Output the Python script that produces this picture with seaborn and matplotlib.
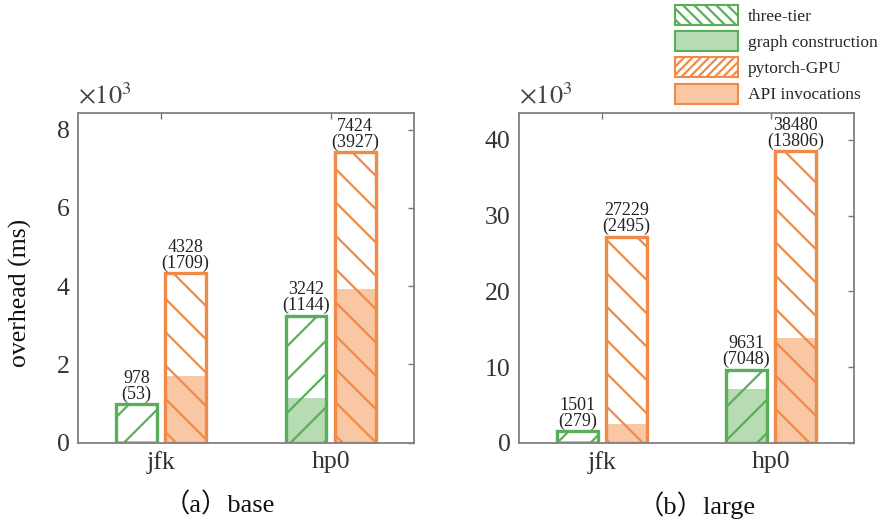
import matplotlib
matplotlib.use("Agg")
import matplotlib.pyplot as plt
import seaborn as sns
import pandas as pd
from matplotlib.patches import Patch

# ---- data (ms) ----
datasets = ["jfk", "hp0"]
methods = ["three-tier", "pytorch-GPU"]
base_total = {"three-tier": [978, 3242], "pytorch-GPU": [4328, 7424]}
base_part = {"three-tier": [53, 1144], "pytorch-GPU": [1709, 3927]}
large_total = {"three-tier": [1501, 9631], "pytorch-GPU": [27229, 38480]}
large_part = {"three-tier": [279, 7048], "pytorch-GPU": [2495, 13806]}
base_yticks = [0, 2, 4, 6, 8]
large_yticks = [0, 10, 20, 30, 40]
subtitles = ["（a）base", "（b）large"]
legend_labels = ["three-tier", "graph construction", "pytorch-GPU", "API invocations"]

GREEN = "#5aae5a"
GREEN_FILL = "#b7dbb3"
ORANGE = "#f08a46"
ORANGE_FILL = "#f9c7a4"
edge_cols = {"three-tier": GREEN, "pytorch-GPU": ORANGE}
fill_cols = {"three-tier": GREEN_FILL, "pytorch-GPU": ORANGE_FILL}
hatches = {"three-tier": "/", "pytorch-GPU": "\\"}

sns.set_style("white")
plt.rcParams["font.family"] = ["Liberation Serif", "Noto Sans CJK SC", "DejaVu Sans"]
plt.rcParams["mathtext.fontset"] = "stix"
plt.rcParams["hatch.linewidth"] = 1.6

fig = plt.figure(figsize=(8.84, 5.29), dpi=100)
ax1 = fig.add_axes([0.088, 0.163, 0.380, 0.624])
ax2 = fig.add_axes([0.587, 0.163, 0.379, 0.624])


def make_df(total, part):
    rows = []
    for m in methods:
        for d, t, p in zip(datasets, total[m], part[m]):
            rows.append({"dataset": d, "method": m, "total": t / 1000, "part": p / 1000,
                         "label": f"{t}\n({p})"})
    return pd.DataFrame(rows)


def draw(ax, total, part, yticks, ylim, sub, subx):
    df = make_df(total, part)
    sns.barplot(data=df, x="dataset", y="part", hue="method", order=datasets,
                hue_order=methods, palette=fill_cols, width=0.58, gap=0.17,
                ax=ax, legend=False, errorbar=None, saturation=1)
    sns.barplot(data=df, x="dataset", y="total", hue="method", order=datasets,
                hue_order=methods, palette=edge_cols, width=0.58, gap=0.17,
                ax=ax, legend=False, errorbar=None, saturation=1)
    for i, m in enumerate(methods):
        for p in ax.containers[i]:
            p.set_facecolor(fill_cols[m])
            p.set_edgecolor("none")
            p.set_linewidth(0)
        for p in ax.containers[2 + i]:
            p.set_facecolor("none")
            p.set_edgecolor(edge_cols[m])
            p.set_hatch(hatches[m])
            p.set_linewidth(2.4)
        labs = df[df.method == m]["label"].tolist()
        ax.bar_label(ax.containers[2 + i], labels=labs, padding=1, fontsize=13,
                     color="#222222", linespacing=0.9)
    ax.set_xlim(-0.49, 1.49)
    ax.set_ylim(0, ylim)
    ax.set_yticks(yticks)
    ax.set_yticklabels([str(t) for t in yticks])
    ax.set_ylabel("")
    ax.set_xlabel(sub, fontsize=19, color="#111111")
    ax.xaxis.set_label_coords(subx, -0.188)
    ax.xaxis.label.set_va("center")
    ax.tick_params(axis="both", direction="in", length=4, width=1.0, colors="#777777",
                   labelcolor="#333333", labelsize=18.5, top=True, right=True, pad=6)
    for s in ax.spines.values():
        s.set_visible(True)
        s.set_color("#808080")
        s.set_linewidth(1.3)
    ax.text(0.0, 1.01, r"$\times10^3$", transform=ax.transAxes, ha="left", va="bottom",
            fontsize=19, color="#444444")


draw(ax1, base_total, base_part, base_yticks, 8.43, subtitles[0], 0.42)
draw(ax2, large_total, large_part, large_yticks, 43.6, subtitles[1], 0.53)
ax1.set_ylabel("overhead (ms)", fontsize=18.5, color="#111111")
ax1.yaxis.set_label_coords(-0.17, 0.455)
ax1.yaxis.label.set_va("center")

handles = [
    Patch(facecolor="white", edgecolor=GREEN, hatch="\\\\\\", linewidth=1.5),
    Patch(facecolor=GREEN_FILL, edgecolor=GREEN, linewidth=1.5),
    Patch(facecolor="white", edgecolor=ORANGE, hatch="////", linewidth=1.5),
    Patch(facecolor=ORANGE_FILL, edgecolor=ORANGE, linewidth=1.5),
]
fig.legend(handles, legend_labels, loc="upper right", bbox_to_anchor=(1.005, 1.01),
           frameon=False, fontsize=12.5, handlelength=3.6, handleheight=1.4,
           labelspacing=0.35, handletextpad=0.6, borderaxespad=0.2)

fig.savefig("out.png", dpi=100)
